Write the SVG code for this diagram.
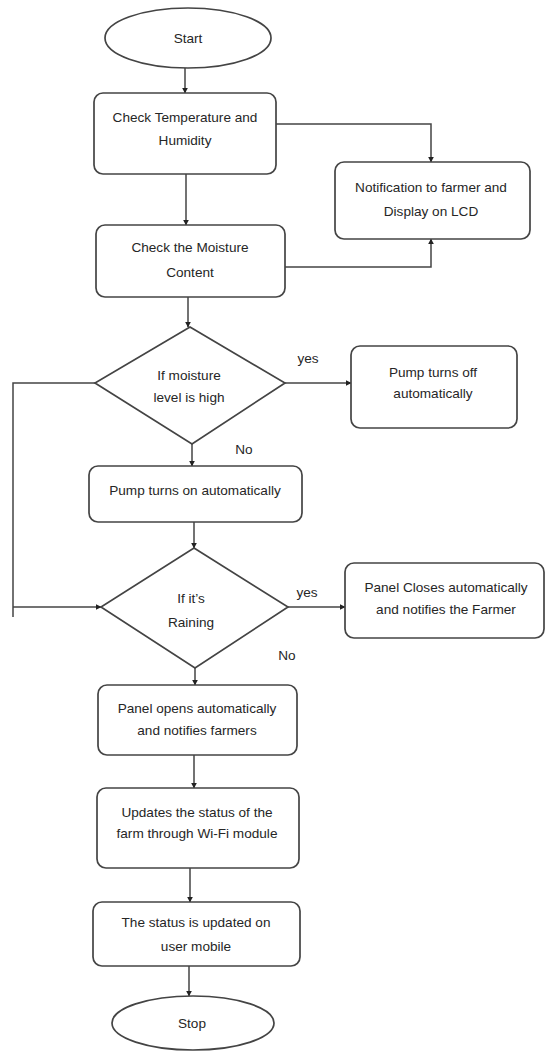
<svg xmlns="http://www.w3.org/2000/svg" width="546" height="1051" viewBox="0 0 546 1051">
<defs>
<marker id="arr" viewBox="0 0 10 10" refX="9" refY="5" markerWidth="6" markerHeight="6" markerUnits="userSpaceOnUse" orient="auto">
<path d="M0,0 L10,5 L0,10 z" fill="#222"/>
</marker>
</defs>
<style>
.n{fill:#fff;stroke:#444;stroke-width:1.7}
.t{font-family:"Liberation Sans",Arial,sans-serif;font-size:13.6px;fill:#262626;text-anchor:middle}
.c{fill:none;stroke:#444;stroke-width:1.5}
.a{fill:none;stroke:#444;stroke-width:1.5;marker-end:url(#arr)}
</style>
<rect width="546" height="1051" fill="#fff"/>
<g id="connectors">
<path class="a" d="M185,68 V93"/>
<path class="a" d="M276,124 H431 V162"/>
<path class="a" d="M186,174 V225"/>
<path class="a" d="M285,267 H431 V239"/>
<path class="a" d="M188,297 V327"/>
<path class="a" d="M285,383 H351"/>
<path class="c" d="M95,383 H13 V617"/>
<path class="a" d="M13,607 H101"/>
<path class="a" d="M192,444 V466"/>
<path class="a" d="M194,522 V548"/>
<path class="a" d="M288,607 H345"/>
<path class="a" d="M195,668 V685"/>
<path class="a" d="M194,755 V788"/>
<path class="a" d="M190,868 V902"/>
<path class="a" d="M189,966 V996"/>
<text class="t" x="308" y="363">yes</text>
<text class="t" x="244" y="454">No</text>
<text class="t" x="307" y="597">yes</text>
<text class="t" x="287" y="660">No</text>
</g>
<g id="start">
<ellipse class="n" cx="188" cy="38" rx="83" ry="30"/>
<text class="t" x="188" y="43">Start</text>
</g>
<g id="check-temp">
<rect class="n" x="94" y="93" width="182" height="81" rx="9"/>
<text class="t" x="185" y="122">Check Temperature and</text>
<text class="t" x="185" y="145">Humidity</text>
</g>
<g id="notify">
<rect class="n" x="335" y="162" width="195" height="77" rx="9"/>
<text class="t" x="431" y="192">Notification to farmer and</text>
<text class="t" x="431" y="216">Display on LCD</text>
</g>
<g id="check-moisture">
<rect class="n" x="96" y="225" width="189" height="72" rx="9"/>
<text class="t" x="190" y="252">Check the Moisture</text>
<text class="t" x="190" y="277">Content</text>
</g>
<g id="moisture-decision">
<polygon class="n" points="190,327 285,383 192,444 95,383"/>
<text class="t" x="189" y="380">If moisture</text>
<text class="t" x="189" y="402">level is high</text>
</g>
<g id="pump-off">
<rect class="n" x="351" y="346" width="166" height="82" rx="9"/>
<text class="t" x="433" y="377">Pump turns off</text>
<text class="t" x="433" y="398">automatically</text>
</g>
<g id="pump-on">
<rect class="n" x="89" y="466" width="213" height="56" rx="9"/>
<text class="t" x="195" y="495">Pump turns on automatically</text>
</g>
<g id="rain-decision">
<polygon class="n" points="194,548 288,607 195,668 101,607"/>
<text class="t" x="191" y="603">If it’s</text>
<text class="t" x="191" y="627">Raining</text>
</g>
<g id="panel-close">
<rect class="n" x="345" y="563" width="199" height="75" rx="9"/>
<text class="t" x="446" y="592">Panel Closes automatically</text>
<text class="t" x="446" y="614">and notifies the Farmer</text>
</g>
<g id="panel-open">
<rect class="n" x="98" y="685" width="199" height="70" rx="9"/>
<text class="t" x="197" y="713">Panel opens automatically</text>
<text class="t" x="197" y="735">and notifies farmers</text>
</g>
<g id="update-status">
<rect class="n" x="97" y="788" width="202" height="80" rx="9"/>
<text class="t" x="197" y="817">Updates the status of the</text>
<text class="t" x="197" y="838">farm through Wi-Fi module</text>
</g>
<g id="status-mobile">
<rect class="n" x="93" y="902" width="207" height="64" rx="9"/>
<text class="t" x="196" y="927">The status is updated on</text>
<text class="t" x="196" y="951">user mobile</text>
</g>
<g id="stop">
<ellipse class="n" cx="193" cy="1023" rx="81" ry="27"/>
<text class="t" x="192" y="1028">Stop</text>
</g>
</svg>
